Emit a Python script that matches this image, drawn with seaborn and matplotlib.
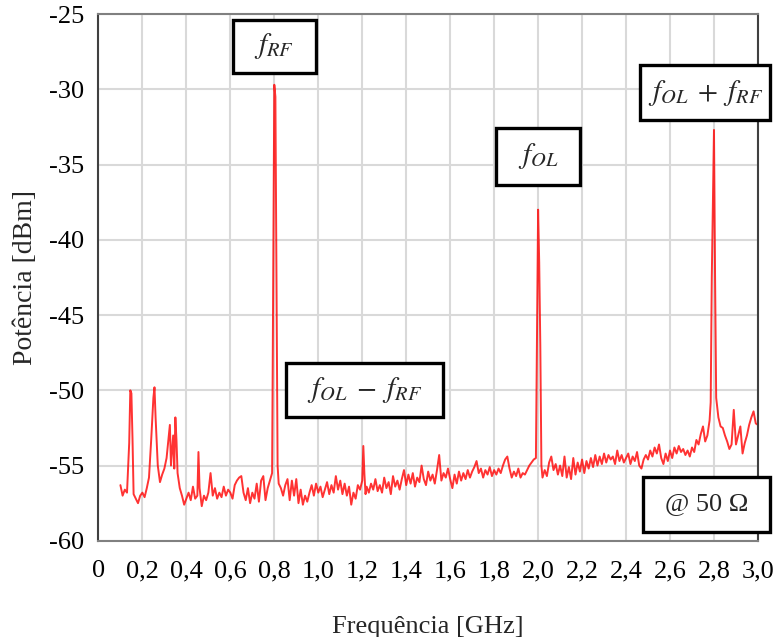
import matplotlib
matplotlib.use("Agg")
import matplotlib.pyplot as plt
from matplotlib.patches import Rectangle
import seaborn as sns
import pandas as pd

freq_ghz = [
    0.10, 0.11, 0.12, 0.13, 0.14, 0.145, 0.15, 0.155, 0.16, 0.17, 0.18, 0.19,
    0.20, 0.21, 0.22, 0.23, 0.24, 0.25, 0.255, 0.26, 0.27, 0.28, 0.29,
    0.30, 0.31, 0.32, 0.325, 0.33, 0.34, 0.345, 0.35, 0.355, 0.36, 0.37, 0.38, 0.39,
    0.40, 0.41, 0.42, 0.43, 0.44, 0.45, 0.455, 0.46, 0.47, 0.48, 0.49,
    0.50, 0.51, 0.52, 0.53, 0.54, 0.55, 0.56, 0.57, 0.58, 0.59,
    0.60, 0.61, 0.62, 0.63, 0.64, 0.65, 0.66, 0.67, 0.68, 0.69,
    0.70, 0.71, 0.72, 0.73, 0.74, 0.75, 0.76, 0.77, 0.78, 0.79,
    0.795, 0.80, 0.805, 0.81, 0.815, 0.82, 0.83, 0.84, 0.85, 0.86, 0.87, 0.88, 0.89,
    0.90, 0.91, 0.92, 0.93, 0.94, 0.95, 0.96, 0.97, 0.98, 0.99,
    1.00, 1.01, 1.02, 1.03, 1.04, 1.05, 1.06, 1.07, 1.08, 1.09,
    1.10, 1.11, 1.12, 1.13, 1.14, 1.15, 1.16, 1.17, 1.18, 1.19,
    1.20, 1.205, 1.21, 1.215, 1.22, 1.23, 1.24, 1.25, 1.26, 1.27, 1.28, 1.29,
    1.30, 1.31, 1.32, 1.33, 1.34, 1.35, 1.36, 1.37, 1.38, 1.39,
    1.40, 1.41, 1.42, 1.43, 1.44, 1.45, 1.46, 1.47, 1.48, 1.49,
    1.50, 1.51, 1.52, 1.53, 1.54, 1.55, 1.56, 1.57, 1.58, 1.59,
    1.60, 1.61, 1.62, 1.63, 1.64, 1.65, 1.66, 1.67, 1.68, 1.69,
    1.70, 1.71, 1.72, 1.73, 1.74, 1.75, 1.76, 1.77, 1.78, 1.79,
    1.80, 1.81, 1.82, 1.83, 1.84, 1.85, 1.86, 1.87, 1.88, 1.89,
    1.90, 1.91, 1.92, 1.93, 1.94, 1.95, 1.96, 1.97, 1.98, 1.99,
    1.995, 2.00, 2.005, 2.01, 2.015, 2.02, 2.03, 2.04, 2.05, 2.06, 2.07, 2.08, 2.09,
    2.10, 2.11, 2.12, 2.13, 2.14, 2.15, 2.16, 2.17, 2.18, 2.19,
    2.20, 2.21, 2.22, 2.23, 2.24, 2.25, 2.26, 2.27, 2.28, 2.29,
    2.30, 2.31, 2.32, 2.33, 2.34, 2.35, 2.36, 2.37, 2.38, 2.39,
    2.40, 2.41, 2.42, 2.43, 2.44, 2.45, 2.46, 2.47, 2.48, 2.49,
    2.50, 2.51, 2.52, 2.53, 2.54, 2.55, 2.56, 2.57, 2.58, 2.59,
    2.60, 2.61, 2.62, 2.63, 2.64, 2.65, 2.66, 2.67, 2.68, 2.69,
    2.70, 2.71, 2.72, 2.73, 2.74, 2.75, 2.76, 2.77, 2.78, 2.785,
    2.79, 2.80, 2.805, 2.81, 2.82, 2.83, 2.84, 2.85, 2.86, 2.87, 2.88, 2.89,
    2.90, 2.91, 2.92, 2.93, 2.94, 2.95, 2.96, 2.97, 2.98, 2.99, 3.00,
]

power_dbm = [
    -56.3, -57.0, -56.6, -56.8, -53.5, -50.0, -50.2, -53.2, -56.9, -57.2, -57.5, -57.0,
    -56.8, -57.1, -56.5, -55.8, -53.3, -50.5, -49.8, -51.8, -55.0, -56.1, -55.6,
    -55.2, -54.5, -53.0, -52.3, -55.0, -53.0, -55.2, -51.8, -53.3, -55.5, -56.5, -57.0, -57.6,
    -57.2, -56.8, -57.3, -56.4, -57.2, -57.0, -54.1, -56.5, -57.7, -57.0, -57.3,
    -56.8, -55.5, -57.0, -56.5, -57.2, -56.8, -57.1, -56.4, -57.0, -56.6,
    -56.8, -57.2, -56.3, -56.0, -55.8, -55.7, -56.8, -57.3, -56.5, -57.5,
    -56.8, -57.2, -56.2, -57.4, -56.0, -55.7, -57.3, -56.5, -56.0, -55.5,
    -42.0, -29.7, -30.5, -42.5, -55.0, -56.2, -56.5, -57.0, -56.3, -55.9, -57.3, -56.0, -57.0,
    -55.9, -57.5, -56.6, -57.6, -57.0, -57.4, -56.8, -56.3, -57.0, -56.2,
    -56.8, -56.4, -57.1, -56.6, -56.1, -56.9, -56.3, -56.8, -55.7, -56.6,
    -56.0, -56.9, -56.2, -57.0, -56.4, -57.6, -56.8, -57.2, -56.3, -56.6,
    -56.0, -53.7, -55.6, -56.9, -56.4, -56.8, -56.2, -56.6, -55.9, -56.7, -56.3, -56.8,
    -55.8, -56.5, -56.1, -56.9, -55.7, -56.4, -56.0, -56.6, -55.9, -55.3,
    -56.3, -55.6, -56.2, -55.5, -56.4, -55.8, -56.1, -55.0, -55.9, -56.3,
    -55.4, -56.0, -55.6, -56.2, -55.3, -54.3, -56.0, -55.5, -55.8, -55.2,
    -55.9, -56.5, -55.6, -56.2, -55.4, -56.0, -55.5, -55.9, -55.3, -55.8,
    -55.4, -55.1, -54.7, -55.5, -55.2, -55.8, -55.3, -55.6, -55.1, -55.7,
    -55.3, -55.6, -55.2, -55.5, -55.0, -54.6, -54.4, -55.2, -55.8, -55.4,
    -55.7, -55.2, -55.8, -55.5, -55.6, -55.3, -55.0, -54.8, -54.6, -54.5,
    -46.0, -38.0, -41.5, -47.0, -55.0, -55.8, -55.3, -55.7, -54.8, -54.4, -55.3, -54.9, -55.6,
    -55.0, -55.7, -54.4, -55.8, -55.1, -55.9, -54.5, -55.6, -54.8, -55.4,
    -54.6, -55.5, -54.7, -55.2, -54.5, -55.1, -54.3, -55.0, -54.4, -54.9,
    -54.2, -54.8, -54.3, -54.6, -54.4, -54.9, -54.0, -54.7, -54.3, -54.8,
    -54.5, -54.2, -54.9, -54.4, -54.7, -54.1, -55.0, -55.2, -54.6, -54.3,
    -54.6, -54.0, -54.4, -53.8, -54.2, -53.6, -54.5, -54.9, -54.2, -54.7,
    -54.0, -54.5, -53.8, -54.2, -53.7, -54.1, -53.9, -54.3, -54.0, -54.4,
    -53.8, -54.1, -53.3, -53.6, -52.9, -52.4, -53.4, -53.0, -52.0, -50.8,
    -42.5, -32.7, -42.5, -50.5, -51.8, -52.4, -52.5, -53.0, -53.4, -53.9, -53.6, -51.3,
    -53.6, -53.0, -52.4, -54.2, -53.5, -53.0, -52.3, -51.8, -51.4, -52.2, -52.3,
]

x_ticks = [0.0, 0.2, 0.4, 0.6, 0.8, 1.0, 1.2, 1.4, 1.6, 1.8, 2.0, 2.2, 2.4, 2.6, 2.8, 3.0]
x_tick_labels = ["0", "0,2", "0,4", "0,6", "0,8", "1,0", "1,2", "1,4", "1,6", "1,8",
                 "2,0", "2,2", "2,4", "2,6", "2,8", "3,0"]
y_ticks = [-60, -55, -50, -45, -40, -35, -30, -25]
y_tick_labels = ["-60", "-55", "-50", "-45", "-40", "-35", "-30", "-25"]

annot_texts = [r"$f_{RF}$", r"$f_{OL}$", r"$f_{OL}\;+\;f_{RF}$", r"$f_{OL}\;-\;f_{RF}$", "@ 50 Ω"]
# box extents (data units): x0, x1, y0, y1
box_x0 = [0.610, 1.810, 2.465, 0.851, 2.478]
box_x1 = [0.988, 2.192, 3.056, 1.569, 3.056]
box_y0 = [-28.9, -36.35, -32.04, -51.76, -59.40]
box_y1 = [-25.4, -32.57, -28.39, -48.17, -55.74]

sns.set_theme(style="whitegrid")
plt.rcParams["font.family"] = ["Liberation Serif", "DejaVu Serif"]
plt.rcParams["mathtext.fontset"] = "stix"

df = pd.DataFrame({"freq": freq_ghz, "power": power_dbm})

fig = plt.figure(figsize=(7.75, 6.37), dpi=100)
ax = fig.add_axes([0.127, 0.151, 0.851, 0.827])

sns.lineplot(data=df, x="freq", y="power", ax=ax, color="#ff0000",
             linewidth=1.4, alpha=0.8, estimator=None, sort=False)

ax.set_xlim(0, 3.0)
ax.set_ylim(-60, -25)
ax.set_xticks(x_ticks)
ax.set_xticklabels(x_tick_labels)
ax.set_yticks(y_ticks)
ax.set_yticklabels(y_tick_labels)
ax.tick_params(axis="both", labelsize=19, length=0, colors="black")
ax.tick_params(axis="x", pad=14)
ax.tick_params(axis="y", pad=10)
ax.grid(True, color="#d9d9d9", linewidth=1.5)
for s in ["left", "right"]:
    ax.spines[s].set_color("#404040")
    ax.spines[s].set_linewidth(1.5)
for s in ["top", "bottom"]:
    ax.spines[s].set_color("#808080")
    ax.spines[s].set_linewidth(1.5)

ax.set_xlabel("Frequência [GHz]", fontsize=19, labelpad=24)
ax.set_ylabel("Potência [dBm]", fontsize=20, labelpad=8)

for t, x0, x1, y0, y1 in zip(annot_texts, box_x0, box_x1, box_y0, box_y1):
    rect = Rectangle((x0, y0), x1 - x0, y1 - y0, facecolor="white",
                     edgecolor="black", linewidth=2.4, zorder=5, clip_on=False)
    ax.add_patch(rect)
    fs = 21 if t.startswith("$") else 19
    ax.text((x0 + x1) / 2, (y0 + y1) / 2, t, ha="center", va="center",
            fontsize=fs, zorder=6)

fig.savefig("out.png", dpi=100)
